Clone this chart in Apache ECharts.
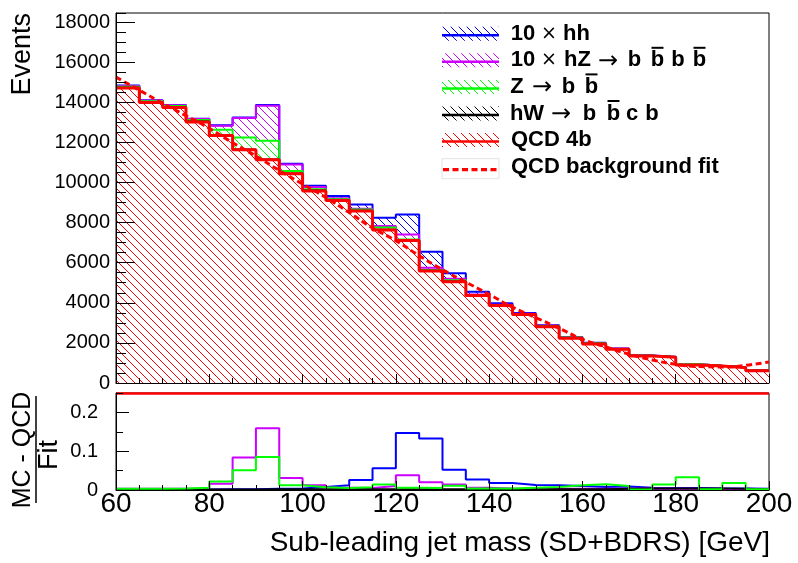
<!DOCTYPE html>
<html>
<head>
<meta charset="utf-8">
<script src="https://cdn.jsdelivr.net/npm/echarts@6/dist/echarts.min.js"></script>
<style>
  html, body { margin: 0; padding: 0; background: #fff; }
  #chart { width: 798px; height: 563px; }
</style>
</head>
<body>
<div id="chart"></div>
<script>
// bin edges (GeV), 5 GeV wide bins
const binEdges = [60, 65, 70, 75, 80, 85, 90, 95, 100, 105, 110, 115, 120, 125, 130,
  135, 140, 145, 150, 155, 160, 165, 170, 175, 180, 185, 190, 195, 200]

// events per bin, one value per bin (stack order bottom -> top)
const qcd4b = [14710, 13990, 13740, 13020, 12340, 11630, 11130, 10430, 9580, 9100, 8580, 7630, 7100, 5590,
  5055, 4360, 3860, 3410, 2810, 2230, 1950, 1680, 1350, 1280, 900, 850, 765, 615]
const hWbb = [15, 15, 15, 15, 15, 15, 20, 20, 15, 15, 15, 15, 15, 12, 10, 10, 8, 8, 6, 6, 5, 5, 5, 4, 3, 3, 2, 2]
const zbb = [45, 43, 55, 78, 272, 594, 932, 123, 67, 44, 57, 104, 40, 30, 59, 19, 16, 21, 24, 29, 30, 16, 1, 15, 29, 2, 15, 2]
const hZ10 = [45, 43, 41, 52, 198, 979, 1743, 318, 115, 53, 41, 74, 256, 120, 75, 28, 16, 11, 9, 7, 6, 5, 5, 3, 3, 2, 2, 2]
const hh10 = [15, 14, 14, 13, 25, 23, 33, 41, 57, 107, 211, 415, 989, 798, 278, 127, 74, 46, 36, 25, 16, 15, 8, 5, 4, 3, 3, 3]

// QCD background fit
const fitMass = [60, 65, 70, 75, 80, 85, 90, 95, 100, 105, 110, 115, 120, 125, 130,
  135, 140, 145, 150, 155, 160, 165, 170, 175, 180, 185, 190, 195, 200]
const fitEvents = [15250, 14600, 13950, 13330, 12700, 11980, 11320, 10600, 9920, 9250, 8500, 7730, 7100, 6350, 5650,
  5030, 4420, 3780, 3260, 2730, 2180, 1800, 1440, 1150, 930, 820, 800, 880, 1050]

// (MC - QCD) / Fit per bin
const ratioHH = [0.001, 0.001, 0.001, 0.001, 0.002, 0.002, 0.003, 0.004, 0.008, 0.012, 0.026, 0.056, 0.147, 0.133,
  0.052, 0.027, 0.018, 0.013, 0.012, 0.010, 0.008, 0.009, 0.006, 0.005, 0.005, 0.004, 0.004, 0.003]
const ratioHZ = [0.003, 0.003, 0.003, 0.004, 0.016, 0.084, 0.159, 0.031, 0.012, 0.006, 0.005, 0.010, 0.038, 0.020,
  0.014, 0.006, 0.004, 0.003, 0.003, 0.003, 0.003, 0.003, 0.004, 0.003, 0.003, 0.002, 0.002, 0.002]
const ratioZ = [0.003, 0.003, 0.004, 0.006, 0.022, 0.051, 0.085, 0.012, 0.007, 0.005, 0.007, 0.014, 0.006, 0.005,
  0.011, 0.004, 0.004, 0.006, 0.008, 0.012, 0.015, 0.010, 0.001, 0.014, 0.033, 0.002, 0.018, 0.002]
const ratioHW = [0.001, 0.001, 0.001, 0.001, 0.001, 0.001, 0.002, 0.002, 0.002, 0.002, 0.002, 0.002, 0.002, 0.002,
  0.002, 0.003, 0.002, 0.002, 0.002, 0.002, 0.002, 0.003, 0.004, 0.004, 0.004, 0.004, 0.003, 0.002]

const FONT = '"Liberation Sans", Arial, sans-serif'

// histogram -> step points (value held until next edge)
const stepPoints = (vals) => {
  const pts = vals.map((v, i) => [binEdges[i], v])
  pts.push([binEdges[vals.length], vals[vals.length - 1]])
  return pts
}

// ROOT-like "\\\\" hatch fill; opaque tiles so upper layers get covered below their own line
const hatch = (color, opaque) => {
  const c = document.createElement('canvas')
  c.width = 8
  c.height = 8
  const g = c.getContext('2d')
  if (opaque) {
    g.fillStyle = '#fff'
    g.fillRect(0, 0, 8, 8)
  }
  g.fillStyle = color
  for (let i = 0; i < 8; i++) g.fillRect(i, i, 1, 1)
  return { image: c, repeat: 'repeat' }
}

// stack bottom -> top
const stackDefs = [
  { name: 'QCD 4b', vals: qcd4b, color: '#ff0000', width: 3 },
  { name: 'hW', vals: hWbb, color: '#000000', width: 2 },
  { name: 'Z', vals: zbb, color: '#00ff00', width: 2 },
  { name: 'hZ', vals: hZ10, color: '#cc00ff', width: 2 },
  { name: 'hh', vals: hh10, color: '#0000ff', width: 2 }
]
// cumulative sums, like THStack
let running = qcd4b.map(() => 0)
stackDefs.forEach(s => {
  running = running.map((r, i) => r + s.vals[i])
  s.cum = running
})

const series = []
// top of the stack drawn first, each lower layer paints over it
stackDefs.slice().reverse().forEach(s => {
  series.push({
    type: 'line',
    name: s.name,
    xAxisIndex: 0,
    yAxisIndex: 0,
    step: 'end',
    data: stepPoints(s.cum),
    symbol: 'none',
    silent: true,
    z: s.name === 'QCD 4b' ? 3 : 2,
    lineStyle: { color: s.color, width: s.width },
    areaStyle: { color: hatch(s.color, true), opacity: 1 }
  })
})

series.push({
  type: 'line',
  name: 'QCD background fit',
  xAxisIndex: 0,
  yAxisIndex: 0,
  data: fitMass.map((m, i) => [m, fitEvents[i]]),
  smooth: true,
  symbol: 'none',
  silent: true,
  z: 6,
  lineStyle: { color: '#ff0000', width: 3, type: [6, 3.5] }
})

// ratio panel
const ratioDefs = [
  { name: 'hh', vals: ratioHH, color: '#0000ff' },
  { name: 'hZ', vals: ratioHZ, color: '#cc00ff' },
  { name: 'hW', vals: ratioHW, color: '#000000' },
  { name: 'Z', vals: ratioZ, color: '#00ff00' }
]
ratioDefs.forEach(r => {
  series.push({
    type: 'line',
    name: 'ratio ' + r.name,
    xAxisIndex: 1,
    yAxisIndex: 2,
    step: 'end',
    data: stepPoints(r.vals),
    symbol: 'none',
    silent: true,
    lineStyle: { color: r.color, width: 2 }
  })
})
series[series.length - 1].clip = false
series[series.length - 1].markLine = {
  silent: true,
  symbol: 'none',
  label: { show: false },
  lineStyle: { color: '#ff0000', width: 2.5, type: 'solid' },
  data: [{ yAxis: 0.25 }]
}

// legend, drawn by hand (ROOT style boxes, TLatex-like tokens with overbars)
const legendFont = 'bold 22px ' + FONT
const symFont = { '×': '19px "DejaVu Sans"', '→': '24px "DejaVu Sans"' }
// [token, centre x, overbar]
const legendItems = [
  { color: '#0000ff', tokens: [['10', 523], ['×', 549], ['hh', 576.5]] },
  { color: '#cc00ff', tokens: [['10', 523], ['×', 549], ['hZ', 577.5], ['→', 608], ['b', 634.5], ['b', 657.5, true], ['b', 678], ['b', 699.5, true]] },
  { color: '#00ff00', tokens: [['Z', 517], ['→', 542], ['b', 568.5], ['b', 591.5, true]] },
  { color: '#000000', tokens: [['hW', 527], ['→', 561], ['b', 589.5], ['b', 613.5, true], ['c', 632], ['b', 652]] },
  { color: '#ff0000', tokens: [['QCD 4b', null]] }
]
const graphic = []
const textX = 511
const rowY = (i) => 33.7 + 26.6 * i
legendItems.forEach((it, i) => {
  const cy = rowY(i)
  graphic.push({ type: 'rect', silent: true, z: 100, shape: { x: 442, y: cy - 7, width: 57, height: 14 }, style: { fill: hatch(it.color, false) } })
  graphic.push({ type: 'line', silent: true, z: 101, shape: { x1: 442, y1: cy + 1.5, x2: 499, y2: cy + 1.5 }, style: { stroke: it.color, lineWidth: 2.5 } })
  it.tokens.forEach(([t, cx, bar]) => {
    graphic.push({
      type: 'text', silent: true, z: 101,
      x: cx === null ? textX : cx,
      y: t === '→' ? cy + 1 : cy,
      style: { text: t, font: symFont[t] || legendFont, fill: '#000', align: cx === null ? 'left' : 'center', verticalAlign: 'middle' }
    })
    if (bar) {
      graphic.push({ type: 'line', silent: true, z: 101, shape: { x1: cx - 6, y1: cy - 12.5, x2: cx + 6, y2: cy - 12.5 }, style: { stroke: '#000', lineWidth: 2 } })
    }
  })
})
const fitY = rowY(5)
graphic.push({ type: 'rect', silent: true, z: 100, shape: { x: 442, y: fitY - 8, width: 57, height: 20 }, style: { fill: '#fff', stroke: '#e2e2e2', lineWidth: 1 } })
graphic.push({ type: 'line', silent: true, z: 101, shape: { x1: 443, y1: fitY + 3, x2: 498, y2: fitY + 3 }, style: { stroke: '#ff0000', lineWidth: 3.3, lineDash: [6, 3.5] } })
graphic.push({ type: 'text', silent: true, z: 101, x: textX, y: fitY, style: { text: 'QCD background fit', font: legendFont, fill: '#000', align: 'left', verticalAlign: 'middle' } })

// axis titles
graphic.push({ type: 'text', silent: true, x: 23, y: 13, rotation: Math.PI / 2, style: { text: 'Events', font: '27px ' + FONT, fill: '#000', align: 'right', verticalAlign: 'middle' } })
graphic.push({ type: 'text', silent: true, x: 770, y: 543, style: { text: 'Sub-leading jet mass (SD+BDRS) [GeV]', font: '28px ' + FONT, fill: '#000', align: 'right', verticalAlign: 'middle' } })
graphic.push({ type: 'text', silent: true, x: 23, y: 450, rotation: Math.PI / 2, style: { text: 'MC - QCD', font: '25px ' + FONT, fill: '#000', align: 'center', verticalAlign: 'middle' } })
graphic.push({ type: 'line', silent: true, shape: { x1: 36, y1: 396, x2: 36, y2: 503 }, style: { stroke: '#000', lineWidth: 1.5 } })
graphic.push({ type: 'text', silent: true, x: 50, y: 455, rotation: Math.PI / 2, style: { text: 'Fit', font: '27px ' + FONT, fill: '#000', align: 'center', verticalAlign: 'middle' } })

const black = { color: '#000', width: 1 }
const xAxisBase = (gi, labels) => ({
  type: 'value',
  gridIndex: gi,
  z: 10,
  min: 60,
  max: 200,
  interval: 20,
  axisLine: { show: true, onZero: false, lineStyle: black },
  axisTick: { show: true, inside: true, length: 9, lineStyle: black },
  minorTick: { show: true, splitNumber: 4, length: 5, lineStyle: black },
  splitLine: { show: false },
  axisLabel: labels
    ? { show: true, fontSize: 28, fontFamily: FONT, color: '#000', margin: 0 }
    : { show: false }
})

const option = {
  animation: false,
  backgroundColor: '#fff',
  textStyle: { fontFamily: FONT },
  grid: [
    { left: 116, right: 29, top: 13, height: 370, show: true, borderColor: '#000', borderWidth: 1, backgroundColor: 'transparent' },
    { left: 116, right: 29, top: 393, height: 97, show: true, borderColor: '#000', borderWidth: 1, backgroundColor: 'transparent' }
  ],
  xAxis: [xAxisBase(0, false), xAxisBase(1, true)],
  yAxis: [
    // top panel, major ticks + labels
    {
      type: 'value', gridIndex: 0, z: 10, min: 0, max: 18450, interval: 2000,
      axisLine: { show: true, onZero: false, lineStyle: black },
      axisTick: { show: true, inside: true, length: 19, lineStyle: black },
      splitLine: { show: false },
      axisLabel: { fontSize: 20, fontFamily: FONT, color: '#000', margin: 6, showMaxLabel: false, formatter: v => (v % 2000 === 0 ? String(v) : '') }
    },
    // top panel, minor ticks
    {
      type: 'value', gridIndex: 0, z: 10, min: 0, max: 18450, interval: 500, position: 'left',
      axisLine: { show: false },
      axisTick: { show: true, inside: true, length: 10, lineStyle: black },
      splitLine: { show: false },
      axisLabel: { show: false }
    },
    // ratio panel, major ticks + labels
    {
      type: 'value', gridIndex: 1, z: 10, min: 0, max: 0.25, interval: 0.1,
      axisLine: { show: true, onZero: false, lineStyle: black },
      axisTick: { show: true, inside: true, length: 13, lineStyle: black },
      splitLine: { show: false },
      axisLabel: { fontSize: 20, fontFamily: FONT, color: '#000', margin: 18, showMaxLabel: false, formatter: v => (v === 0 ? '0' : v.toFixed(1)) }
    },
    // ratio panel, minor ticks
    {
      type: 'value', gridIndex: 1, z: 10, min: 0, max: 0.25, interval: 0.05, position: 'left',
      axisLine: { show: false },
      axisTick: { show: true, inside: true, length: 7, lineStyle: black },
      splitLine: { show: false },
      axisLabel: { show: false }
    }
  ],
  series,
  graphic
}

const chart = echarts.init(document.getElementById('chart'), null, { renderer: 'canvas' })
chart.setOption(option)
</script>
</body>
</html>
